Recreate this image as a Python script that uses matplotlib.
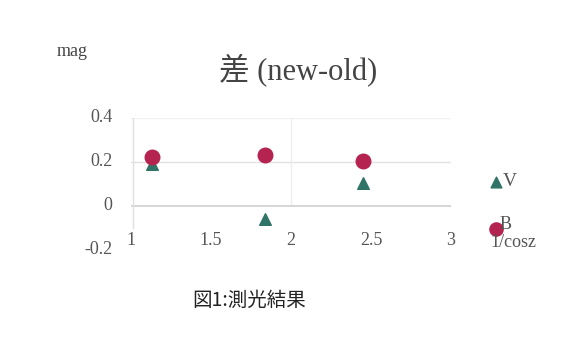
import matplotlib
matplotlib.use('Agg')
import matplotlib.pyplot as plt

# 1/cos z and the new-old magnitude differences
airmass = [1.13, 1.84, 2.45]
diff_V = [0.19, -0.06, 0.105]
diff_B = [0.225, 0.23, 0.205]

xticks = [1, 1.5, 2, 2.5, 3]
yticks = [-0.2, 0, 0.2, 0.4]

serif = ['Liberation Serif', 'Noto Sans CJK JP']
col_V = '#2f7466'
col_B = '#b52350'
txt = '#555555'

fig = plt.figure(figsize=(5.61, 3.38), dpi=100)
ax = fig.add_axes([131/561, 88/338, 320/561, 132/338])
ax.set_xlim(1, 3)
ax.set_ylim(-0.2, 0.4)
ax.axis('off')

# light grid and axis lines
ax.plot([1, 3], [0.4, 0.4], color='#f2f2f2', lw=1, zorder=1)
ax.plot([1, 3], [0.2, 0.2], color='#e2e2e2', lw=1, zorder=1)
ax.plot([2, 2], [0, 0.4], color='#eeeeee', lw=1, zorder=1)
ax.plot([1, 3], [0, 0], color='#d0d0d0', lw=1.2, zorder=1)
ax.plot([1.01, 1.01], [-0.1, 0.4], color='#e0e0e0', lw=1, zorder=1)

ax.scatter(airmass, diff_V, marker='^', s=70, color=col_V, zorder=3)
ax.scatter(airmass, diff_B, marker='o', s=110, color=col_B, zorder=4)

for t in xticks:
    ax.text(t, -0.155, '%g' % t, ha='center', va='center', fontsize=13,
            family=serif, color=txt)
for t in yticks:
    ax.text(0.885, t, '%g' % t, ha='right', va='center', fontsize=13,
            family=serif, color=txt)

fig.text(57/561, 1 - 52/338, 'mag', fontsize=13, family=serif, color='#444444',
         va='center', ha='left')
fig.text(298/561, 1 - 70/338, '差 (new-old)', fontsize=22, family=serif,
         color='#444444', va='center', ha='center')

# legend entries at the right
ax.scatter([3.28], [0.11], marker='^', s=60, color=col_V, clip_on=False, zorder=3)
ax.text(3.325, 0.11, 'V', fontsize=14, family=serif, color=txt, va='center')
ax.scatter([3.28], [-0.105], marker='o', s=90, color=col_B, clip_on=False, zorder=3)
ax.text(3.305, -0.085, 'B', fontsize=13, family=serif, color=txt, va='center')
ax.text(3.39, -0.165, '1/cosz', fontsize=13, family=serif, color=txt,
        va='center', ha='center')

fig.text(249/561, 1 - 300/338, '図1:測光結果', fontsize=14,
         family=['Noto Sans CJK JP', 'DejaVu Sans'], color='#222222',
         va='center', ha='center')

fig.savefig('out.png', dpi=100, facecolor='white')
